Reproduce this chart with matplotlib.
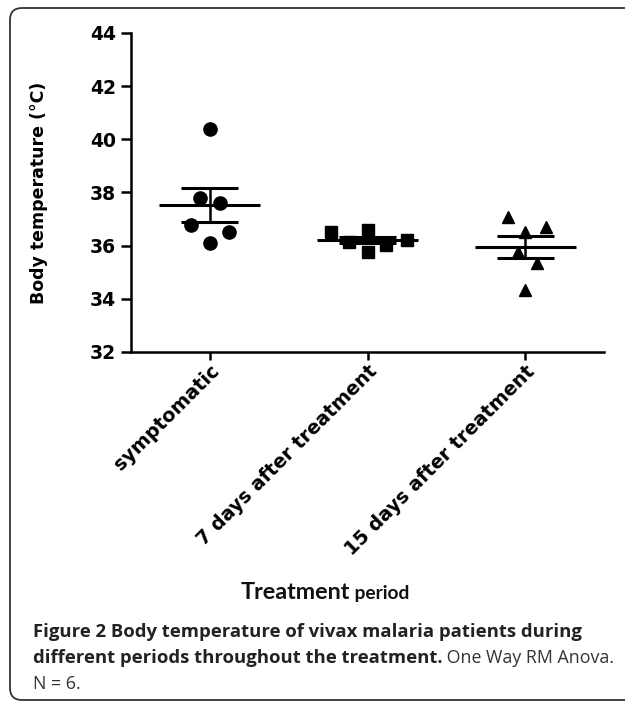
import numpy as np
import matplotlib
matplotlib.use("Agg")
from matplotlib import pyplot as plt
from matplotlib.patches import FancyBboxPatch

# groups and body temperatures (°C), 6 patients each
groups = ["symptomatic", "7 days after treatment", "15 days after treatment"]
symptomatic = [40.39, 37.80, 37.59, 36.78, 36.50, 36.09]
day7 = [36.53, 36.15, 36.59, 35.77, 36.02, 36.21]
day15 = [37.09, 36.69, 36.53, 35.77, 35.36, 34.33]
yticks = [32, 34, 36, 38, 40, 42, 44]

# horizontal scatter of the points around each category
jitter = [
    [0, -0.06, 0.065, -0.12, 0.12, 0],
    [-0.23, -0.12, 0, 0, 0.12, 0.25],
    [-0.11, 0.13, 0, -0.045, 0.075, 0],
]
markers = [("o", 9.5), ("s", 8.5), ("^", 8.5)]

fig = plt.figure(figsize=(6.25, 7.02), dpi=100)

# rounded frame around the figure
bg = fig.add_axes([0, 0, 1, 1])
bg.set_xlim(0, 625)
bg.set_ylim(702, 0)
bg.axis("off")
bg.add_patch(FancyBboxPatch((10, 8), 660, 692, boxstyle="round,pad=0,rounding_size=12",
                            fc="white", ec="#333333", lw=1.3))

ax = fig.add_axes([0.2096, 0.4986, 0.7568, 0.4544])
ax.patch.set_alpha(0)

for i, vals in enumerate([symptomatic, day7, day15]):
    vals = np.array(vals)
    m = vals.mean()
    sem = vals.std(ddof=1) / np.sqrt(len(vals))
    xs = i + np.array(jitter[i])
    mk, ms = markers[i]
    ax.plot(xs, vals, linestyle="none", marker=mk, ms=ms, color="black", zorder=3)
    ax.hlines(m, i - 0.32, i + 0.32, color="black", lw=2.2, zorder=4)
    ax.hlines([m - sem, m + sem], i - 0.18, i + 0.18, color="black", lw=2.2, zorder=4)
    ax.vlines(i, m - sem, m + sem, color="black", lw=1.8, zorder=4)

ax.set_xlim(-0.5, 2.5)
ax.set_ylim(32, 44)
ax.set_yticks(yticks)
ax.set_xticks(range(len(groups)))
ax.set_xticklabels(groups, rotation=45, ha="right", rotation_mode="anchor",
                   fontsize=13.8, fontweight="bold")
for lab in ax.get_yticklabels():
    lab.set_fontsize(13.5)
    lab.set_fontweight("bold")
ax.spines["top"].set_visible(False)
ax.spines["right"].set_visible(False)
for s in ["left", "bottom"]:
    ax.spines[s].set_linewidth(1.8)
ax.tick_params(axis="y", length=7, width=1.8, pad=4)
ax.tick_params(axis="x", length=6, width=1.8, pad=1)
ax.set_ylabel("Body temperature (°C)", fontsize=12.5, fontweight="bold")
ax.yaxis.set_label_coords(-0.175, 0.5)

# axis title below the rotated labels
t1 = fig.text(241 / 625, 1 - 603 / 702, "Treatment", fontsize=16.8, fontweight="bold",
              family="Lato", color="#111111", va="bottom")
ax.annotate(" period", xy=(1, 0.04), xycoords=t1, fontsize=13.8, fontweight="bold",
            family="Lato", color="#111111", va="bottom", ha="left",
            annotation_clip=False)

# caption
cap_x = 33 / 625
cap_size = 13.3
c1 = fig.text(cap_x, 1 - 637 / 702, "Figure 2 Body temperature of vivax malaria patients during",
              fontsize=cap_size, fontweight="bold", family="Open Sans", color="#222222",
              va="baseline")
c2 = fig.text(cap_x, 1 - 663 / 702, "different periods throughout the treatment.",
              fontsize=cap_size, fontweight="bold", family="Open Sans", color="#222222",
              va="baseline")
ax.annotate(" One Way RM Anova.", xy=(1, 0), xycoords=c2, fontsize=12.8,
            family="Open Sans", color="#333333", va="bottom", ha="left",
            annotation_clip=False)
fig.text(cap_x, 1 - 689 / 702, "N = 6.", fontsize=12.8, family="Open Sans",
         color="#333333", va="baseline")

fig.savefig("out.png", dpi=100)
